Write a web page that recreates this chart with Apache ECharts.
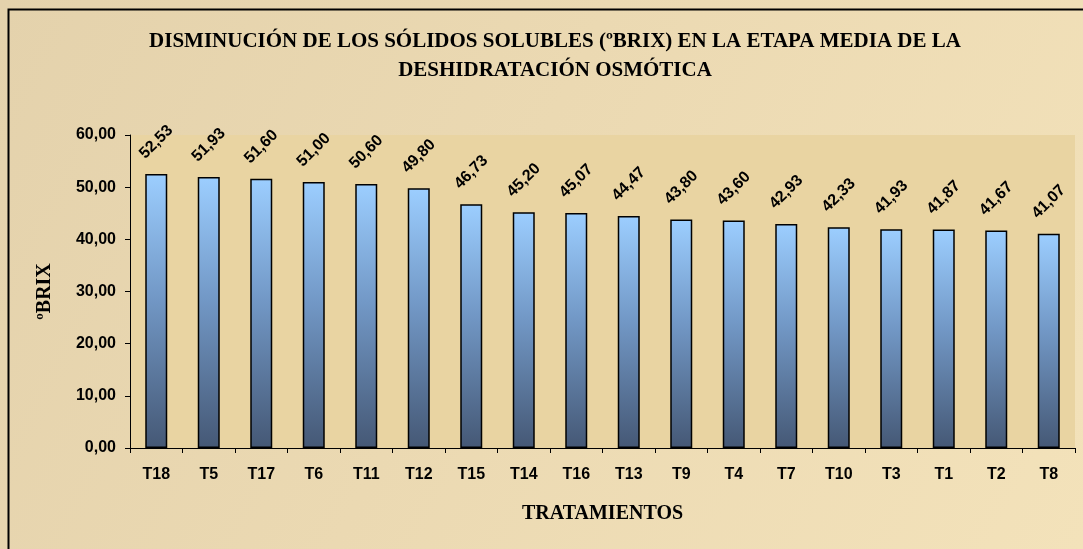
<!DOCTYPE html>
<html>
<head>
<meta charset="utf-8">
<script src="https://cdn.jsdelivr.net/npm/echarts@6/dist/echarts.min.js"></script>
<style>
html,body{margin:0;padding:0;background:#fff;}
#c{width:1083px;height:549px;}
</style>
</head>
<body>
<div id="c"></div>
<script>
const categories = ['T18','T5','T17','T6','T11','T12','T15','T14','T16','T13','T9','T4','T7','T10','T3','T1','T2','T8'];
const brixValues = [52.53,51.93,51.60,51.00,50.60,49.80,46.73,45.20,45.07,44.47,43.80,43.60,42.93,42.33,41.93,41.87,41.67,41.07];
const titleLines = ['DISMINUCIÓN DE LOS SÓLIDOS SOLUBLES (ºBRIX) EN LA ETAPA MEDIA DE LA', 'DESHIDRATACIÓN OSMÓTICA'];
const yAxisName = 'ºBRIX';
const xAxisName = 'TRATAMIENTOS';

const fmt = v => Number(v).toFixed(2).replace('.', ',');
const chart = echarts.init(document.getElementById('c'));
chart.setOption({
  backgroundColor: {
    type: 'linear', x: 0, y: 0, x2: 1, y2: 1,
    colorStops: [
      {offset: 0, color: '#E4D2AC'},
      {offset: 0.45, color: '#EBD9B2'},
      {offset: 1, color: '#F3E2BA'}
    ]
  },
  animation: false,
  graphic: [{
    type: 'rect', left: 6, top: 7, z: 100, silent: true,
    shape: {width: 1100, height: 600},
    style: {fill: 'none', stroke: '#000', lineWidth: 2}
  }],
  title: {
    text: titleLines.join('\n'),
    left: 550, top: 22, textAlign: 'center',
    textStyle: {fontFamily: 'Liberation Serif', fontWeight: 'bold', fontSize: 21, lineHeight: 29, color: '#000'}
  },
  grid: {
    left: 130, right: 8, top: 135, bottom: 101,
    show: true, backgroundColor: '#E9D4A2', borderWidth: 0
  },
  xAxis: {
    type: 'category', data: categories,
    name: xAxisName, nameLocation: 'middle', nameGap: 56,
    nameTextStyle: {fontFamily: 'Liberation Serif', fontWeight: 'bold', fontSize: 20, color: '#000'},
    axisLine: {lineStyle: {color: '#000', width: 1}},
    axisTick: {show: true, length: 5, lineStyle: {color: '#000'}},
    axisLabel: {fontFamily: 'Liberation Sans', fontWeight: 'bold', fontSize: 16, color: '#000', margin: 19}
  },
  yAxis: {
    type: 'value', min: 0, max: 60, interval: 10,
    name: yAxisName, nameLocation: 'middle', nameGap: 75, nameRotate: 90,
    nameTextStyle: {fontFamily: 'Liberation Serif', fontWeight: 'bold', fontSize: 20, color: '#000'},
    axisLine: {show: true, lineStyle: {color: '#000', width: 1}},
    axisTick: {show: true, length: 5, lineStyle: {color: '#000'}},
    splitLine: {show: false},
    axisLabel: {fontFamily: 'Liberation Sans', fontWeight: 'bold', fontSize: 16, color: '#000', margin: 14, formatter: fmt}
  },
  series: [{
    type: 'bar', data: brixValues, barWidth: 22,
    itemStyle: {
      color: {type: 'linear', x: 0, y: 0, x2: 0, y2: 1,
        colorStops: [{offset: 0, color: '#9CCEFF'}, {offset: 0.45, color: '#7298C6'}, {offset: 1, color: '#455875'}]},
      borderColor: '#000', borderWidth: 1.5
    },
    label: {
      show: true, position: ['50%', -32], rotate: 45, align: 'center', verticalAlign: 'middle',
      fontFamily: 'Liberation Sans', fontWeight: 'bold', fontSize: 16, color: '#000',
      formatter: p => fmt(p.value)
    }
  }]
});
</script>
</body>
</html>
